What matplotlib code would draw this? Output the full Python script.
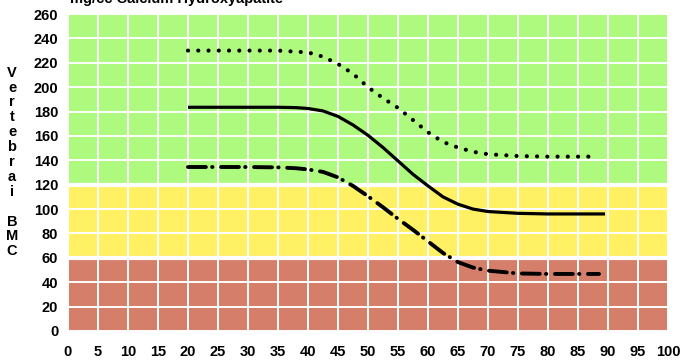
import matplotlib
matplotlib.use("Agg")
import matplotlib.pyplot as plt

# Data (age in years vs vertebral BMC, mg/cc)
x_ticks = list(range(0, 101, 5))
y_ticks = list(range(0, 261, 20))

upper_x = [20, 25, 30, 35, 40, 42.5, 45, 47.5, 50, 52.5, 55, 57.5, 60, 62.5, 65, 67.5, 70, 75, 80, 88]
upper_y = [230, 230, 230, 230, 228.5, 225, 219, 211, 200, 191, 183, 173, 163, 155, 150.5, 147, 145, 143.5, 143, 143]

mid_x = [20, 25, 30, 35, 38, 40, 42.5, 45, 47.5, 50, 52.5, 55, 57.5, 60, 62.5, 65, 67.5, 70, 75, 80, 89.5]
mid_y = [183.5, 183.5, 183.5, 183.5, 183.2, 182.5, 180.5, 176, 169, 160.5, 150.5, 139.5, 128.5, 119, 110, 104, 100, 98, 96.5, 96, 96]

low_x = [20, 25, 30, 35, 38, 40, 42.5, 45, 47.5, 50, 52.5, 55, 57.5, 60, 62.5, 65, 67.5, 70, 75, 80, 88.5]
low_y = [134.5, 134.5, 134.5, 134.2, 133.5, 132.5, 130.5, 126, 119, 110.5, 101.5, 92, 83, 73.5, 64, 56.5, 52, 49.5, 47.2, 46.8, 46.8]

bands = [(0, 60, "#D57E6A"), (60, 120, "#FFF064"), (120, 260, "#AEFA7E")]

title = "mg/cc Calcium Hydroxyapatite"
ylabel = "V\ne\nr\nt\ne\nb\nr\na\ni\n\nB\nM\nC"

plt.rcParams['font.family'] = ['Liberation Sans', 'DejaVu Sans']

fig = plt.figure(figsize=(6.91, 3.62), dpi=100)
ax = fig.add_axes([68/691, 31/362, 600/691, 317/362])

for lo, hi, c in bands:
    ax.axhspan(lo, hi, color=c, zorder=0, lw=0)

ax.set_xlim(0, 100)
ax.set_ylim(0, 260)
ax.set_xticks(x_ticks)
ax.set_yticks(y_ticks)
ax.grid(True, color="white", lw=1.4, zorder=1)
ax.axhline(60, color="white", lw=3, zorder=1.5)
ax.axhline(120, color="white", lw=3, zorder=1.5)
for s in ax.spines.values():
    s.set_visible(False)
ax.tick_params(length=0, labelsize=10.5)
ax.tick_params(axis='x', pad=10)
ax.tick_params(axis='y', pad=7)
for lab in ax.get_xticklabels() + ax.get_yticklabels():
    lab.set_fontweight('bold')

ax.plot(upper_x, upper_y, color="black", lw=3.0, linestyle=(0, (0.01, 2.45)),
        dash_capstyle='round', zorder=3)
ax.plot(mid_x, mid_y, color="black", lw=2.3, zorder=3, solid_capstyle='butt')
ax.plot(low_x, low_y, color="black", lw=2.8, linestyle=(0, (4.6, 1.6, 0.1, 2.2)),
        dash_capstyle='round', zorder=3)

fig.text(70/691, (362-3)/362, title, fontsize=10.5, fontweight='bold', va='baseline', ha='left')
fig.text(12/691, (362-162)/362, ylabel, fontsize=10.5, fontweight='bold', ha='center', va='center',
         linespacing=1.08)

fig.savefig("out.png", dpi=100)
